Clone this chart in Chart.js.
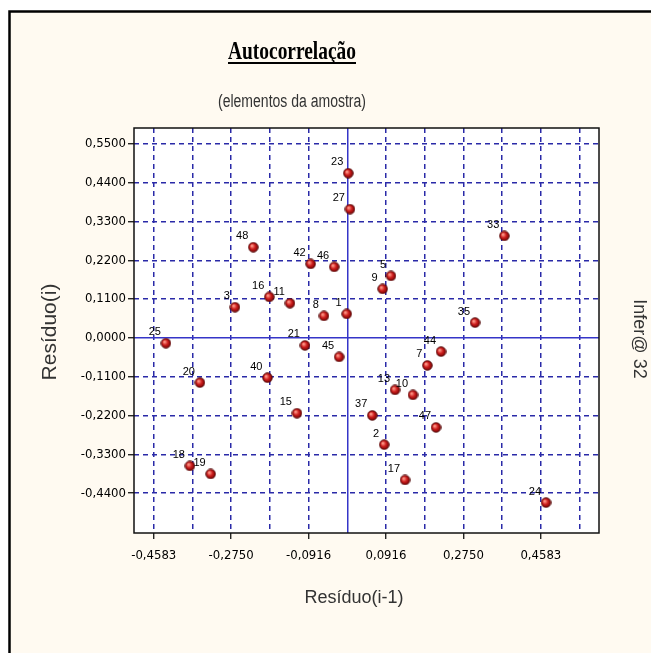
<!DOCTYPE html>
<html>
<head>
<meta charset="utf-8">
<script src="https://cdn.jsdelivr.net/npm/chart.js@4.4.0/dist/chart.umd.min.js"></script>
<style>
  html, body { margin: 0; padding: 0; background: #fff; }
  #myChart { display: block; }
</style>
</head>
<body>
<canvas id="myChart" width="651" height="653"></canvas>
<script>
// point numbers (sample elements)
const pointLabels = ['1', '2', '3', '5', '7', '8', '9', '10', '11', '13', '15', '16', '17', '18', '19', '20',
  '21', '23', '24', '25', '27', '33', '35', '37', '40', '42', '44', '45', '46', '47', '48'];
// Resíduo(i-1)
const residPrev = [-0.0014, 0.0874, -0.2660, 0.1035, 0.1895, -0.0552, 0.0838, 0.1556, -0.1357, 0.1130, -0.1191, -0.1847, 0.1367, -0.3726, -0.3235, -0.3489,
  -0.1002, 0.0024, 0.4706, -0.4294, 0.0064, 0.3719, 0.3025, 0.0592, -0.1890, -0.0867, 0.2219, -0.0192, -0.0310, 0.2101, -0.2226];
// Resíduo(i)
const residCurr = [0.0680, -0.3025, 0.0870, 0.1758, -0.0780, 0.0624, 0.1389, -0.1616, 0.0984, -0.1474, -0.2135, 0.1162, -0.4026, -0.3629, -0.3856, -0.1267,
  -0.0213, 0.4669, -0.4669, -0.0150, 0.3649, 0.2892, 0.0434, -0.2197, -0.1128, 0.2098, -0.0388, -0.0539, 0.2013, -0.2537, 0.2571];

// grid / tick values
const xGridValues = [-0.4583, -0.3666, -0.2750, -0.1833, -0.0916, 0, 0.0916, 0.1833, 0.2750, 0.3666, 0.4583, 0.5500];
const xTickValues = [-0.4583, -0.2750, -0.0916, 0.0916, 0.2750, 0.4583];
const xTickLabels = ['-0,4583', '-0,2750', '-0,0916', '0,0916', '0,2750', '0,4583'];
const yTickValues = [0.55, 0.44, 0.33, 0.22, 0.11, 0, -0.11, -0.22, -0.33, -0.44];
const yTickLabels = ['0,5500', '0,4400', '0,3300', '0,2200', '0,1100', '0,0000', '-0,1100', '-0,2200', '-0,3300', '-0,4400'];

const GRID_BLUE = '#2a2aa8';
const SANS = "'Liberation Sans', Arial, sans-serif";
const TICK_FONT = { family: "'Liberation Sans Narrow', 'DejaVu Sans Condensed', 'Liberation Sans', sans-serif", size: 13 };

const findLabel = (values, labels, v) => {
  const i = values.findIndex(t => Math.abs(t - v) < 1e-6);
  return i < 0 ? '' : labels[i];
};

// little 3D red ball used as marker
const makeBall = () => {
  const c = document.createElement('canvas');
  c.width = 11; c.height = 11;
  const g = c.getContext('2d');
  const grad = g.createRadialGradient(4, 4, 0.5, 5.5, 5.5, 5.5);
  grad.addColorStop(0, '#ff9a8a');
  grad.addColorStop(0.45, '#cc1c1c');
  grad.addColorStop(1, '#660000');
  g.fillStyle = grad;
  g.beginPath();
  g.arc(5.5, 5.5, 4.8, 0, Math.PI * 2);
  g.fill();
  g.strokeStyle = '#4a0000';
  g.lineWidth = 0.8;
  g.stroke();
  return c;
};

// draw text squeezed to a given width (the original uses narrow bitmap fonts)
const squeezedText = (ctx, text, x, y, width) => {
  const w = ctx.measureText(text).width;
  const sx = Math.min(1, width / w);
  ctx.save();
  ctx.translate(x, y);
  ctx.scale(sx, 1);
  ctx.fillText(text, 0, 0);
  ctx.restore();
  return w * sx;
};

const framePlugin = {
  id: 'frame',
  beforeDraw: (chart) => {
    const ctx = chart.ctx;
    const a = chart.chartArea;
    ctx.save();
    ctx.fillStyle = '#ffffff';
    ctx.fillRect(0, 0, chart.width, chart.height);
    ctx.fillStyle = '#fffaf1';
    ctx.fillRect(9, 11, chart.width - 9, chart.height - 11);
    ctx.strokeStyle = '#000';
    ctx.lineWidth = 2.5;
    ctx.beginPath();
    ctx.moveTo(9.5, chart.height);
    ctx.lineTo(9.5, 11.5);
    ctx.lineTo(chart.width, 11.5);
    ctx.stroke();
    ctx.fillStyle = '#ffffff';
    ctx.fillRect(a.left, a.top, a.right - a.left, a.bottom - a.top);

    // title + subtitle
    ctx.fillStyle = '#000';
    ctx.textAlign = 'center';
    ctx.textBaseline = 'alphabetic';
    ctx.font = "bold 26px 'Liberation Serif', 'Times New Roman', serif";
    const tw = squeezedText(ctx, 'Autocorrelação', 292, 59, 128);
    ctx.fillRect(292 - tw / 2, 62, tw, 2);
    ctx.fillStyle = '#333';
    ctx.font = '18px ' + SANS;
    squeezedText(ctx, '(elementos da amostra)', 292, 107, 148);

    // axis titles
    ctx.textBaseline = 'middle';
    ctx.font = '18px ' + SANS;
    ctx.fillText('Resíduo(i-1)', 354, 598);
    ctx.save();
    ctx.translate(50, 332);
    ctx.rotate(-Math.PI / 2);
    ctx.font = '21px ' + SANS;
    ctx.fillText('Resíduo(i)', 0, 0);
    ctx.restore();
    ctx.save();
    ctx.translate(639, 339);
    ctx.rotate(Math.PI / 2);
    ctx.font = '18px ' + SANS;
    ctx.fillText('Infer@ 32', 0, 0);
    ctx.restore();
    ctx.restore();
  },
  afterDraw: (chart) => {
    const ctx = chart.ctx;
    const a = chart.chartArea;
    ctx.save();
    ctx.strokeStyle = '#111';
    ctx.lineWidth = 1.5;
    ctx.strokeRect(a.left, a.top, a.right - a.left, a.bottom - a.top);
    ctx.restore();
  },
  afterDatasetsDraw: (chart) => {
    const ctx = chart.ctx;
    const meta = chart.getDatasetMeta(0);
    ctx.save();
    ctx.fillStyle = '#000';
    ctx.font = '11px ' + SANS;
    ctx.textAlign = 'right';
    ctx.textBaseline = 'alphabetic';
    meta.data.forEach((pt, i) => {
      ctx.fillText(pointLabels[i], pt.x - 5, pt.y - 8);
    });
    ctx.restore();
  }
};

const gridColor = (c) => c.tick && Math.abs(c.tick.value) < 1e-9 ? '#3535c8' : GRID_BLUE;
const gridDash = (c) => c.tick && Math.abs(c.tick.value) < 1e-9 ? [] : [5, 4];

new Chart('myChart', {
  type: 'scatter',
  data: {
    datasets: [{
      data: residPrev.map((x, i) => ({ x: x, y: residCurr[i] })),
      pointStyle: makeBall(),
      pointRadius: 5
    }]
  },
  plugins: [framePlugin],
  options: {
    responsive: false,
    animation: false,
    layout: { padding: { top: 128, left: 0, right: 52, bottom: 0 } },
    plugins: { legend: { display: false }, tooltip: { enabled: false } },
    scales: {
      x: {
        type: 'linear',
        min: -0.505,
        max: 0.596,
        afterBuildTicks: (scale) => { scale.ticks = xGridValues.map(v => ({ value: v })); },
        afterFit: (scale) => { scale.height = 120; },
        grid: {
          color: gridColor,
          lineWidth: 1.5,
          drawTicks: true,
          tickLength: 6,
          tickColor: (c) => findLabel(xTickValues, xTickLabels, c.tick.value) ? '#000' : 'rgba(0,0,0,0)',
          tickWidth: 1.2
        },
        border: { display: false, dash: gridDash },
        ticks: {
          autoSkip: false,
          maxRotation: 0,
          padding: 9,
          color: '#000',
          font: TICK_FONT,
          callback: (v) => findLabel(xTickValues, xTickLabels, v)
        }
      },
      y: {
        type: 'linear',
        min: -0.553,
        max: 0.595,
        afterBuildTicks: (scale) => { scale.ticks = yTickValues.map(v => ({ value: v })); },
        afterFit: (scale) => { scale.width = 134; },
        grid: {
          color: gridColor,
          lineWidth: 1.5,
          drawTicks: true,
          tickLength: 6,
          tickColor: '#000',
          tickWidth: 1.2
        },
        border: { display: false, dash: gridDash },
        ticks: {
          autoSkip: false,
          padding: 2,
          color: '#000',
          font: TICK_FONT,
          callback: (v) => findLabel(yTickValues, yTickLabels, v)
        }
      }
    }
  }
});
</script>
</body>
</html>
